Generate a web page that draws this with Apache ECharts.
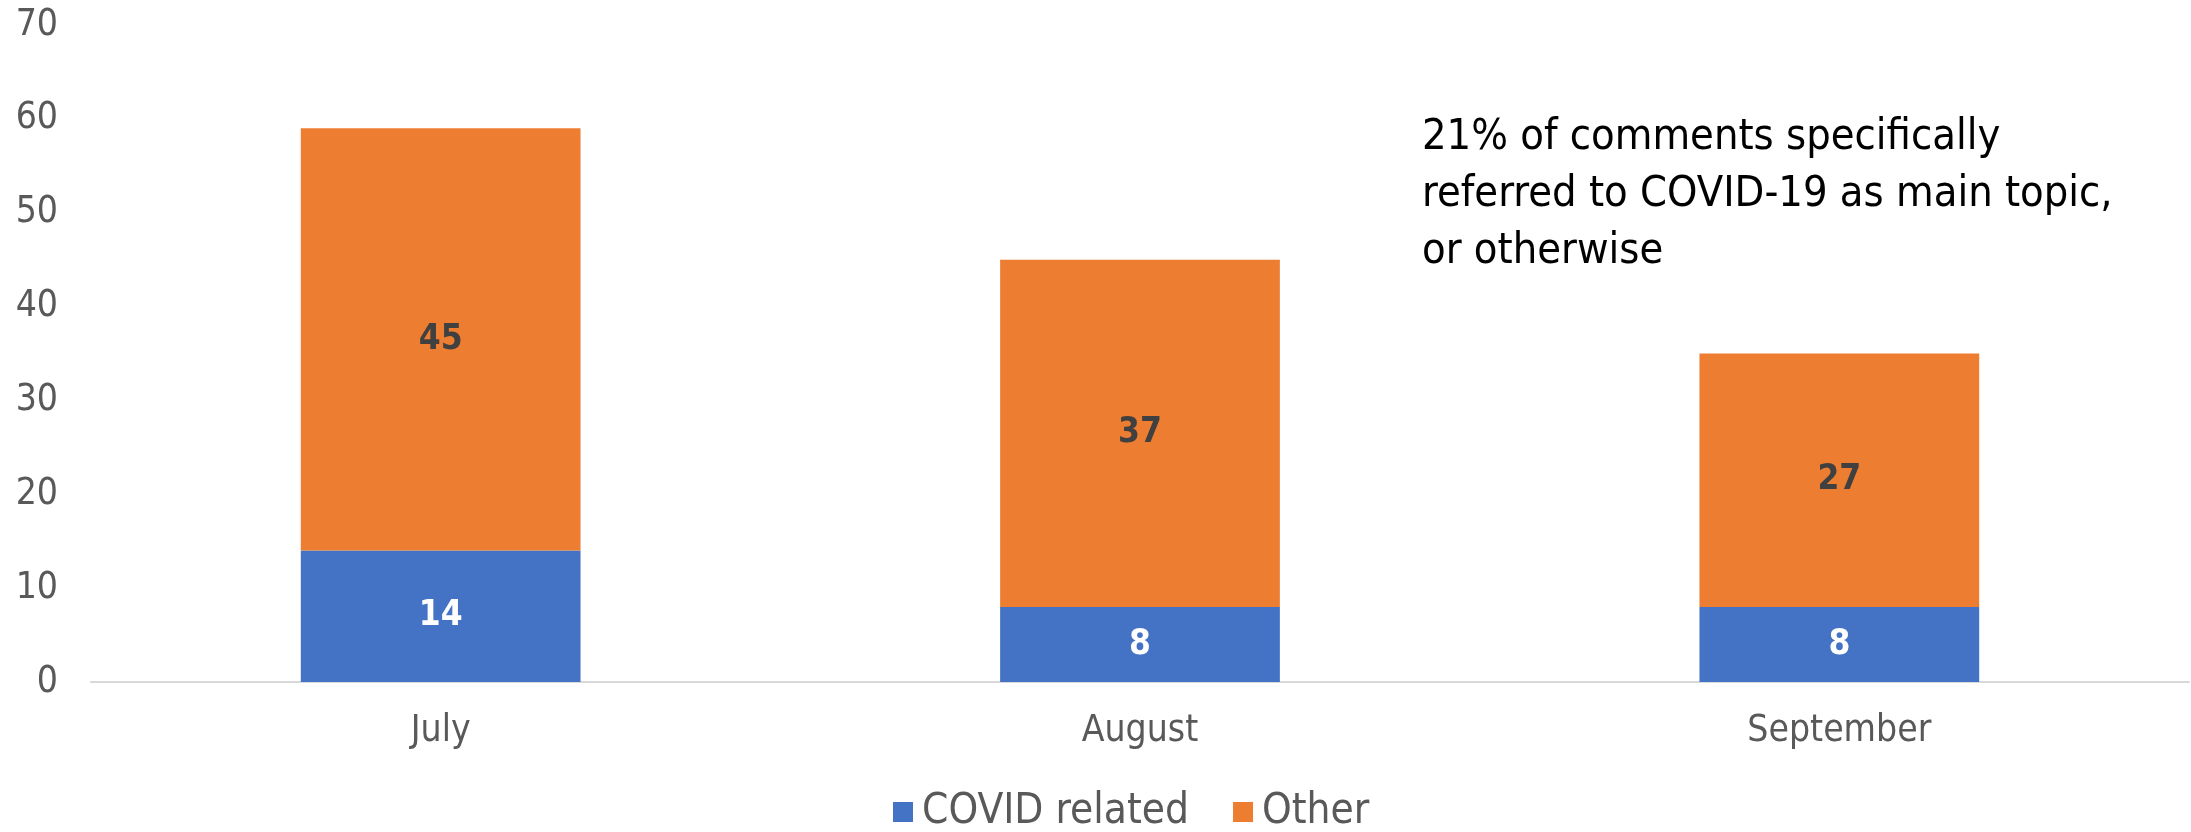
<!DOCTYPE html>
<html>
<head>
<meta charset="utf-8">
<script src="https://cdn.jsdelivr.net/npm/echarts@6/dist/echarts.min.js"></script>
<style>html,body{margin:0;padding:0;background:#fff;}#c{width:2191px;height:832px;}</style>
</head>
<body>
<div id="c"></div>
<script>
const categories = ['July', 'August', 'September'];
const covidRelated = [14, 8, 8];
const other = [45, 37, 27];
const seriesNames = ['COVID related', 'Other'];
const annotationLines = ['21% of comments specifically', 'referred to COVID-19 as main topic,', 'or otherwise'];

const chart = echarts.init(document.getElementById('c'));
const tickFont = 'DejaVu Sans Condensed, DejaVu Sans, sans-serif';
const labelFont = 'DejaVu Sans Condensed, DejaVu Sans, sans-serif';
chart.setOption({
  animation: false,
  grid: { left: 91, right: 2, top: 25, bottom: 150 },
  legend: {
    data: seriesNames,
    top: 786,
    left: 888,
    itemWidth: 20, itemHeight: 20, itemGap: 44,
    icon: 'rect',
    textStyle: { fontSize: 42, color: '#595959', fontFamily: tickFont, padding: [0, 0, 0, 4] }
  },
  xAxis: {
    type: 'category',
    data: categories,
    axisLine: { lineStyle: { color: '#D9D9D9', width: 2 } },
    axisTick: { show: false },
    axisLabel: { fontSize: 37, color: '#595959', fontFamily: tickFont, margin: 31 }
  },
  yAxis: {
    type: 'value',
    min: 0, max: 70, interval: 10,
    splitLine: { show: false },
    axisLine: { show: false },
    axisTick: { show: false },
    axisLabel: { fontSize: 37, color: '#595959', fontFamily: tickFont, margin: 33 }
  },
  series: [
    {
      name: seriesNames[0], type: 'bar', stack: 'a', data: covidRelated, barWidth: '40%',
      itemStyle: { color: '#4472C4' },
      label: { show: true, position: 'inside', color: '#FFFFFF', fontWeight: 'bold', fontSize: 35, fontFamily: labelFont }
    },
    {
      name: seriesNames[1], type: 'bar', stack: 'a', data: other, barWidth: '40%',
      itemStyle: { color: '#ED7D31' },
      label: { show: true, position: 'inside', color: '#404040', fontWeight: 'bold', fontSize: 35, fontFamily: labelFont }
    }
  ],
  graphic: [{
    type: 'text',
    left: 1422, top: 109,
    style: {
      text: annotationLines.join('\n'),
      fontSize: 43,
      lineHeight: 57,
      fill: '#000000',
      fontFamily: 'Liberation Sans Narrow, DejaVu Sans Condensed, sans-serif'
    }
  }]
});
</script>
</body>
</html>
